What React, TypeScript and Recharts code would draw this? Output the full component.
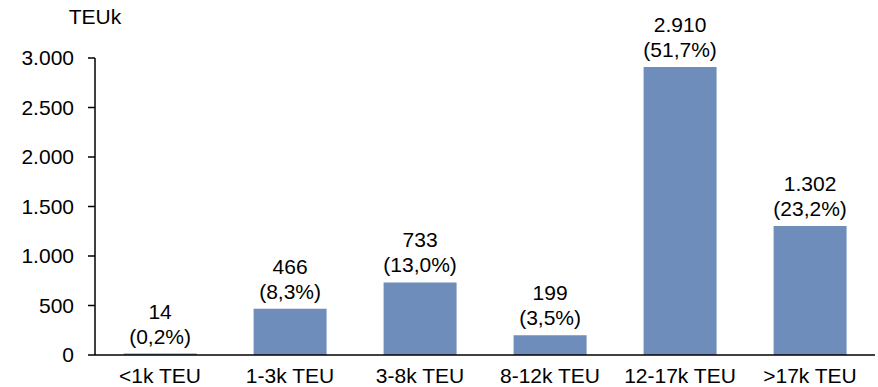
import { BarChart, Bar, XAxis, YAxis, LabelList } from 'recharts';

const categories = ['<1k TEU', '1-3k TEU', '3-8k TEU', '8-12k TEU', '12-17k TEU', '>17k TEU'];
const capacity = [14, 466, 733, 199, 2910, 1302];
const shares = ['0,2%', '8,3%', '13,0%', '3,5%', '51,7%', '23,2%'];
const yTicks = [0, 500, 1000, 1500, 2000, 2500, 3000];

const FONT = 'Liberation Sans, Arial, sans-serif';
const FS = 21;
const BAR_COLOR = '#6f8dbb';

const data = categories.map((name, i) => ({ name, value: capacity[i], share: shares[i] }));

const fmt = (v: number) => v.toLocaleString('de-DE');

// value on the first line, market share in brackets below it
function TwoLineLabel(props: any) {
  const { x, y, width, index } = props;
  const cx = x + width / 2;
  return (
    <text x={cx} textAnchor="middle" fontFamily={FONT} fontSize={FS} fill="#000">
      <tspan x={cx} y={y - 35}>{fmt(capacity[index])}</tspan>
      <tspan x={cx} y={y - 10}>({shares[index]})</tspan>
    </text>
  );
}

export default function App() {
  return (
    <div style={{ position: 'absolute', left: 0, top: 0, background: '#fff' }}>
      <BarChart
        width={878}
        height={387}
        data={data}
        margin={{ top: 58, right: 3, left: 0, bottom: 0 }}
        barCategoryGap="22%"
      >
        <XAxis
          dataKey="name"
          height={32}
          axisLine={{ stroke: '#000', strokeWidth: 1.5 }}
          tickLine={false}
          tick={{ fontFamily: FONT, fontSize: FS, fill: '#000' }}
          tickMargin={7}
          interval={0}
        />
        <YAxis
          width={95}
          domain={[0, 3000]}
          ticks={yTicks}
          tickFormatter={fmt}
          axisLine={{ stroke: '#000', strokeWidth: 1.5 }}
          tickLine={{ stroke: '#000', strokeWidth: 1.5 }}
          tickSize={7}
          tickMargin={14}
          tick={{ fontFamily: FONT, fontSize: FS, fill: '#000' }}
          label={{ value: 'TEUk', content: () => (
            <text x={95} y={24} textAnchor="middle" fontFamily={FONT} fontSize={FS} fill="#000">TEUk</text>
          ) }}
        />
        <Bar dataKey="value" fill={BAR_COLOR} isAnimationActive={false}>
          <LabelList dataKey="value" content={TwoLineLabel} />
        </Bar>
      </BarChart>
    </div>
  );
}
